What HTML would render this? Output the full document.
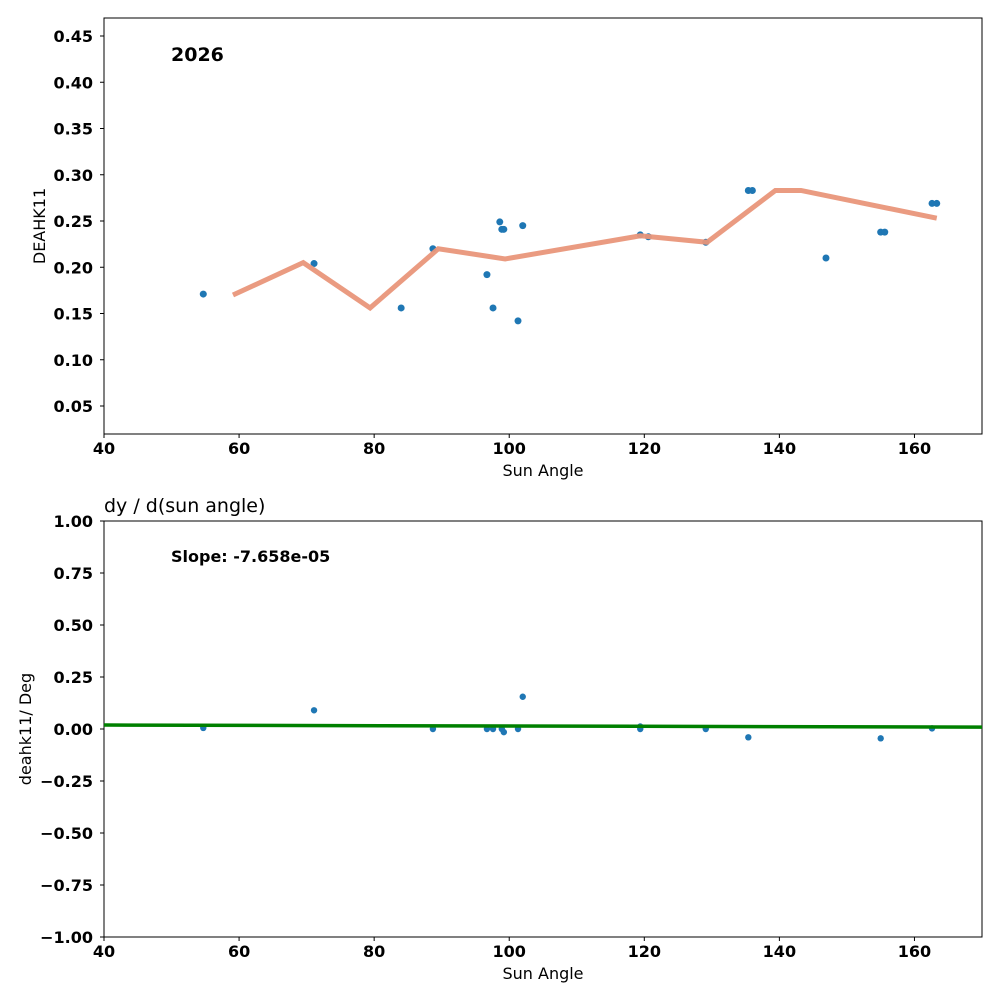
<!DOCTYPE html>
<html><head><meta charset="utf-8"><style>
body{margin:0;background:#fff;font-family:"DejaVu Sans","Liberation Sans",sans-serif}
</style></head><body>
<svg id="chart" width="1000" height="1000" xmlns="http://www.w3.org/2000/svg" font-family="DejaVu Sans, Liberation Sans, sans-serif"></svg>
<script>
const xs1=[54.7,71.1,84.0,88.7,96.7,97.6,98.6,98.9,99.2,101.3,102.0,119.4,120.6,129.1,135.4,136.0,146.9,155.0,155.6,162.6,163.3];
const ys1=[0.171,0.204,0.156,0.220,0.192,0.156,0.249,0.241,0.241,0.142,0.245,0.235,0.233,0.227,0.283,0.283,0.210,0.238,0.238,0.269,0.269];
const lineX=[59.1,69.5,79.4,89.5,99.4,119.4,129.3,139.4,143.2,163.3];
const lineY=[0.170,0.205,0.156,0.220,0.209,0.234,0.227,0.283,0.283,0.253];
const xs2=[54.7,71.1,88.7,96.7,97.6,98.9,99.2,101.3,102.0,119.4,119.4,129.1,135.4,155.0,162.6];
const ys2=[0.005,0.09,0.0,0.0,0.0,0.0,-0.015,0.0,0.155,0.012,0.0,0.0,-0.04,-0.045,0.003];
const fitX=[40,170];
const fitY=[0.019,0.009];
const xTicks=[40,60,80,100,120,140,160];
const yTicks1=[0.05,0.10,0.15,0.20,0.25,0.30,0.35,0.40,0.45];
const yTicks2=[-1.00,-0.75,-0.50,-0.25,0.00,0.25,0.50,0.75,1.00];

const svg=document.getElementById('chart');
const NS='http://www.w3.org/2000/svg';
function mk(tag,attrs,parent,text){const e=document.createElementNS(NS,tag);for(const k in attrs)e.setAttribute(k,attrs[k]);if(text!==undefined)e.textContent=text;(parent||svg).appendChild(e);return e;}
const L=104,R=982;
const sx=v=>L+(v-40)/130*(R-L);
const sy1=v=>36+(0.45-v)*925;
const sy2=v=>729-v*208;

function axes(top,bot,sy,yt,fmt,ylabel,name,lx){
  const g=mk('g',{},svg);
  
  
  mk('rect',{x:L,y:top,width:R-L,height:bot-top,fill:'none',stroke:'#000','stroke-width':1},g);
  xTicks.forEach(t=>{const x=sx(t);mk('line',{x1:x,x2:x,y1:bot,y2:bot+4,stroke:'#000'},g);
    const tx=mk('text',{x:x,y:bot+20,'text-anchor':'middle','font-size':16,'font-weight':'bold'},g,String(t));
    });
  yt.forEach(t=>{const y=sy(t);mk('line',{x1:L-4,x2:L,y1:y,y2:y,stroke:'#000'},g);
    const tx=mk('text',{x:L-11,y:y+6,'text-anchor':'end','font-size':16,'font-weight':'bold'},g,fmt(t).replace('-','\u2212'));
    });
  const xl=mk('text',{x:(L+R)/2,y:bot+42,'text-anchor':'middle','font-size':16},g,'Sun Angle');
  
  const cy=(top+bot)/2;
  const yl=mk('text',{x:0,y:0,'text-anchor':'middle','font-size':16,transform:`translate(${lx},${cy}) rotate(-90)`},g,ylabel);
  
}
axes(18,434,sy1,yTicks1,t=>t.toFixed(2),'DEAHK11','top-axes',45);
axes(521,937,sy2,yTicks2,t=>t.toFixed(2),'deahk11/ Deg','bottom-axes',31);

const pts1=lineX.map((v,i)=>sx(v)+','+sy1(lineY[i])).join(' ');
xs1.forEach((v,i)=>{const c=mk('circle',{cx:sx(v),cy:sy1(ys1[i]),r:3.5,fill:'#1f77b4'});
  });
const pl=mk('polyline',{points:pts1,fill:'none',stroke:'#e9967a','stroke-width':5,'stroke-opacity':0.95});

const t1=mk('text',{x:171,y:61,'font-size':19,'font-weight':'bold'},svg,'2026');


xs2.forEach((v,i)=>{const c=mk('circle',{cx:sx(v),cy:sy2(ys2[i]),r:3.2,fill:'#1f77b4'});
  });
const fl=mk('line',{x1:sx(fitX[0]),y1:sy2(fitY[0]),x2:sx(fitX[1]),y2:sy2(fitY[1]),stroke:'#008000','stroke-width':3.5});

const t2=mk('text',{x:104,y:512,'font-size':19},svg,'dy / d(sun angle)');

const t3=mk('text',{x:171,y:562,'font-size':16,'font-weight':'bold'},svg,'Slope: -7.658e-05');

</script>
</body></html>
